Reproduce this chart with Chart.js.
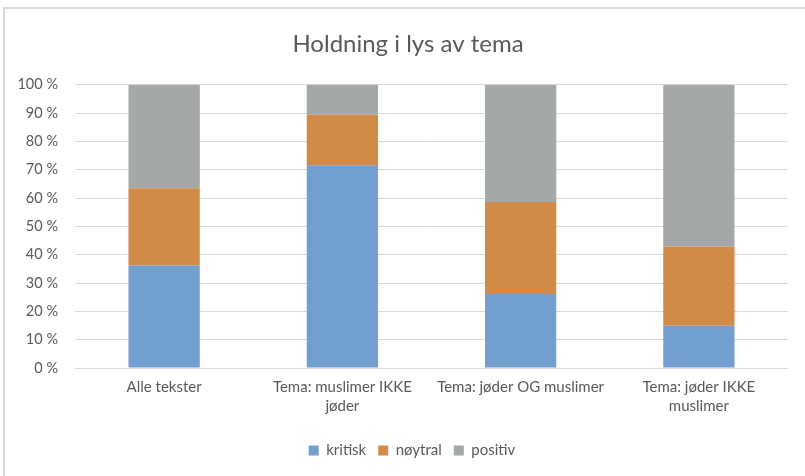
<!DOCTYPE html>
<html><head><meta charset="utf-8">
<script src="https://cdn.jsdelivr.net/npm/chart.js@4/dist/chart.umd.min.js"></script>
<style>
html,body{margin:0;padding:0;background:#fff;overflow:hidden;}
#frame{position:absolute;left:3px;top:7px;width:820px;height:490px;border:2px solid #d9d9d9;box-sizing:border-box;}
#c{position:absolute;left:0;top:0;display:block;}
</style></head>
<body>
<div id="frame"></div>
<canvas id="c" width="805" height="476"></canvas>
<script>
const categories = [["Alle tekster"], ["Tema: muslimer IKKE", "jøder"], ["Tema: jøder OG muslimer"], ["Tema: jøder IKKE", "muslimer"]];
const kritisk = [36.2, 71.6, 26.1, 14.9];
const noytral = [27.3, 17.8, 32.5, 28.0];
const positiv = [36.5, 10.6, 41.4, 57.1];
const seriesNames = ["kritisk", "nøytral", "positiv"];
const colors = ["#729fcf", "#d18a48", "#a5a8a8"];
const font = "Lato, 'Open Sans', sans-serif";

const shiftBoxes = {
  id: 'shiftBoxes',
  beforeDraw(chart) {
    const t = chart.titleBlock, l = chart.legend;
    if (t && !t._shifted) { t.left += 14; t.right += 14; t._shifted = true; }
    if (l && !l._shifted) { l.left += 18; l.right += 18; l._shifted = true; }
  }
};

new Chart(document.getElementById('c'), {
  type: 'bar',
  data: {
    labels: categories,
    datasets: [kritisk, noytral, positiv].map((d, i) => ({
      label: seriesNames[i], data: d, backgroundColor: colors[i],
      borderWidth: 0, categoryPercentage: 1, barPercentage: 0.4
    }))
  },
  plugins: [shiftBoxes],
  options: {
    responsive: false, animation: false,
    layout: { padding: { left: 0, right: 17, top: 0, bottom: 8 } },
    plugins: {
      title: { display: true, text: 'Holdning i lys av tema', color: '#595959',
        font: { family: font, size: 24, weight: 'normal', lineHeight: 1.2 }, padding: { top: 30, bottom: 26 } },
      legend: { position: 'bottom', labels: { color: '#595959', boxWidth: 10, boxHeight: 10,
        font: { family: font, size: 15 }, padding: 12 } },
      tooltip: { enabled: false }
    },
    scales: {
      x: { stacked: true, grid: { display: false, drawTicks: false }, border: { display: false },
        ticks: { color: '#595959', font: { family: font, size: 15, lineHeight: 1.3 }, maxRotation: 0, padding: 9 },
        afterFit: s => { s.height = 63; } },
      y: { stacked: true, min: 0, max: 100, grid: { color: '#d9d9d9', drawTicks: false }, border: { display: false },
        ticks: { stepSize: 10, color: '#595959', font: { family: font, size: 14.5 }, padding: 17,
          callback: v => v + ' %' },
        afterFit: s => { s.width = 75; } }
    }
  }
});
</script>
</body></html>
